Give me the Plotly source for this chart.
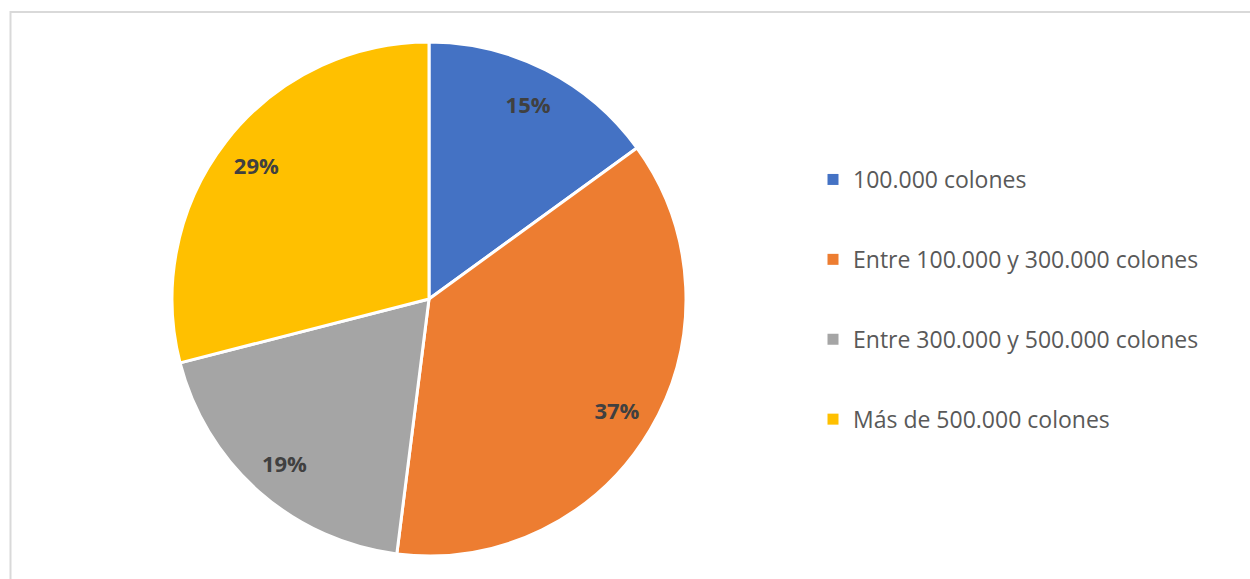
import plotly.graph_objects as go

# income brackets and their shares (%)
labels = ["100.000 colones",
          "Entre 100.000 y 300.000 colones",
          "Entre 300.000 y 500.000 colones",
          "Más de 500.000 colones"]
values = [15, 37, 19, 29]
colors = ["#4472C4", "#ED7D31", "#A5A5A5", "#FFC000"]

W, H = 1250, 579
pie_domain = dict(x=[(429 - 257) / W, (429 + 257) / W], y=[(H - 556) / H, (H - 42) / H])

fig = go.Figure()

# the pie itself, no text
fig.add_trace(go.Pie(
    labels=labels,
    values=values,
    sort=False,
    direction="clockwise",
    marker=dict(colors=colors, line=dict(color="white", width=3)),
    textinfo="none",
    domain=pie_domain,
    showlegend=False,
    hoverinfo="label+percent",
))

# transparent donut on top just to push the % labels out towards the rim (like excel does)
fig.add_trace(go.Pie(
    labels=labels,
    values=values,
    sort=False,
    direction="clockwise",
    hole=0.70,
    marker=dict(colors=["rgba(0,0,0,0)"] * len(values), line=dict(width=0)),
    texttemplate="%{percent:.0%}",
    textposition="inside",
    insidetextorientation="horizontal",
    textfont=dict(family="Open Sans", size=22, color="#404040", weight="bold"),
    domain=pie_domain,
    showlegend=False,
    hoverinfo="skip",
))

# dummy traces for the legend entries so the gaps can be set
for i, (lab, col) in enumerate(zip(labels, colors)):
    fig.add_trace(go.Scatter(
        x=[None], y=[None], mode="markers", name=lab,
        marker=dict(symbol="square", size=11, color=col),
        legendgroup=f"g{i}", showlegend=True,
    ))

fig.update_layout(
    width=W, height=H,
    margin=dict(l=0, r=0, t=0, b=0),
    paper_bgcolor="white",
    plot_bgcolor="white",
    xaxis=dict(visible=False),
    yaxis=dict(visible=False),
    legend=dict(
        x=813 / W, y=1 - 158 / H, xanchor="left", yanchor="top",
        font=dict(family="Open Sans", size=23, color="#595959"),
        tracegroupgap=47,
        itemclick=False, itemdoubleclick=False,
        bgcolor="rgba(0,0,0,0)",
    ),
    shapes=[dict(
        type="rect", xref="paper", yref="paper",
        x0=10.5 / W, x1=1.01, y0=-0.01, y1=1 - 12 / H,
        line=dict(color="#D9D9D9", width=2),
    )],
)

# body has an 8px default margin, drop it so the figure sits at 0,0
fig.write_html("out.html", config={"displayModeBar": False},
               post_script="document.body.style.margin='0';")
